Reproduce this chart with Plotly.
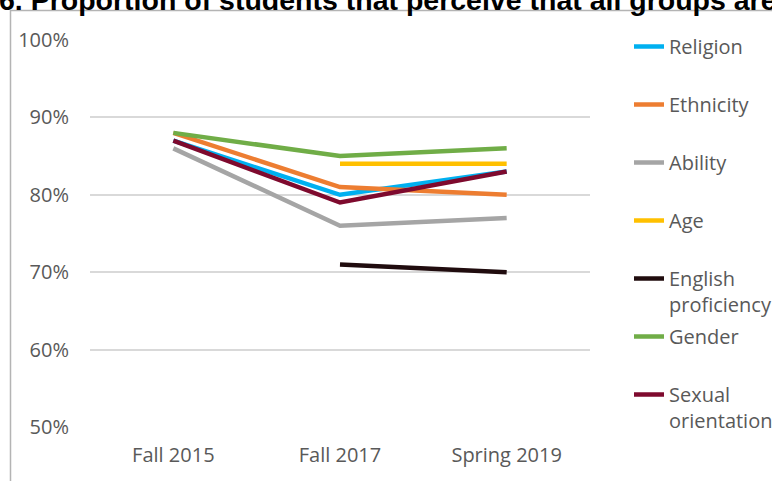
import plotly.graph_objects as go

categories = ["Fall 2015", "Fall 2017", "Spring 2019"]
series_names = ["Religion", "Ethnicity", "Ability", "Age", "English<br>proficiency", "Gender", "Sexual<br>orientation"]
religion = [87, 80, 83]
ethnicity = [88, 81, 80]
ability = [86, 76, 77]
age = [None, 84, 84]
english = [None, 71, 70]
gender = [88, 85, 86]
sexual = [87, 79, 83]
colors = ["#00B0F0", "#ED7D31", "#A5A5A5", "#FFC000", "#200C0E", "#70AD47", "#7E0A2E"]
y_ticks = [50, 60, 70, 80, 90, 100]
title_text = "6. Proportion of students that perceive that all groups are"

values = [religion, ethnicity, ability, age, english, gender, sexual]

FONT = "Open Sans"
FS = 20
fig = go.Figure()
for i, (name, vals, col) in enumerate(zip(series_names, values, colors)):
    label = name if "<br>" in name else name + "<br> "
    fig.add_trace(go.Scatter(
        x=categories, y=vals, name=label, mode="lines",
        line=dict(color=col, width=4.5),
        legendgroup="g%d" % i,
        connectgaps=False,
    ))

W, H = 772, 481
ml, mr, mt, mb = 90, 182, 40, 54
pw, ph = W - ml - mr, H - mt - mb

def px_x(px):
    return (px - ml) / pw

def px_y(py):
    return 1 + (mt - py) / ph

fig.update_layout(
    width=W, height=H,
    margin=dict(l=ml, r=mr, t=mt, b=mb, autoexpand=False),
    paper_bgcolor="white", plot_bgcolor="white",
    font=dict(family=FONT, size=FS, color="#595959"),
    showlegend=True,
    legend=dict(
        x=px_x(629), xanchor="left",
        y=px_y(27), yanchor="top",
        valign="top",
        tracegroupgap=3,
        font=dict(family=FONT, size=FS, color="#595959"),
        bgcolor="rgba(0,0,0,0)",
        itemwidth=30,
        maxheight=470,
    ),
    xaxis=dict(
        type="category", range=[-0.5, 2.5],
        showgrid=False, showline=False, zeroline=False,
        ticks="", tickfont=dict(size=FS, color="#595959"),
        ticklabelstandoff=14,
    ),
    yaxis=dict(
        range=[50, 100], tickvals=y_ticks,
        ticktext=["%d%%" % v for v in y_ticks],
        showgrid=True, gridcolor="#D9D9D9", gridwidth=1.5,
        zeroline=False, showline=False, ticks="",
        tickfont=dict(size=FS, color="#595959"),
        ticklabelstandoff=20,
    ),
    shapes=[
        dict(type="line", xref="paper", yref="paper",
             x0=px_x(10), x1=px_x(772), y0=px_y(10.5), y1=px_y(10.5),
             line=dict(color="#B4B4B4", width=1.5)),
        dict(type="line", xref="paper", yref="paper",
             x0=px_x(10.5), x1=px_x(10.5), y0=px_y(10), y1=px_y(481),
             line=dict(color="#B4B4B4", width=1.5)),
    ],
    annotations=[
        dict(text="<b>" + title_text + "</b>", xref="paper", yref="paper",
             x=px_x(-3), y=px_y(18), xanchor="left", yanchor="bottom",
             showarrow=False,
             font=dict(family="Liberation Sans", size=28.5, color="#000000")),
    ],
)

fig.write_html("out.html", config={"displayModeBar": False},
               post_script="document.body.style.margin='0';")
